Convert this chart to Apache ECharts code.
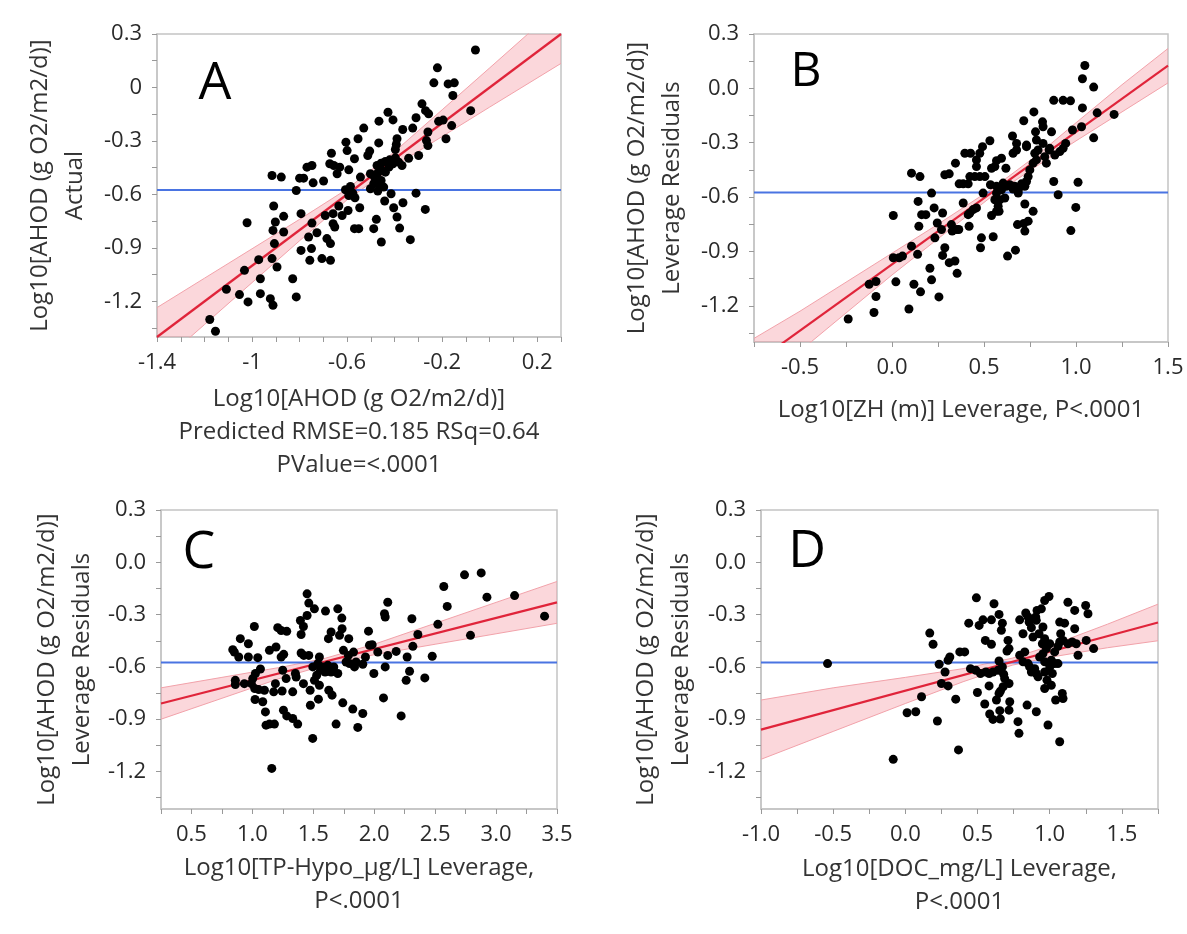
<!DOCTYPE html>
<html>
<head>
<meta charset="utf-8">
<script src="https://cdn.jsdelivr.net/npm/echarts@6/dist/echarts.min.js"></script>
<style>
  html, body { margin: 0; padding: 0; background: #fff; }
  #chart { width: 1187px; height: 934px; }
</style>
</head>
<body>
<div id="chart"></div>
<script>
// ---- data ----
const meanY = -0.575;

// A: actual vs predicted
const ptsA = [[-0.06,0.21],[-0.22,0.11],[-0.235,0.026],[-0.175,0.02],[-0.149,0.026],[-0.155,-0.045],[-0.08,-0.13],[-0.196,-0.183],[-0.215,-0.19],[-0.16,-0.214],[-0.184,-0.288],[-0.285,-0.092],[-0.27,-0.13],[-0.257,-0.148],[-0.31,-0.17],[-0.324,-0.228],[-0.26,-0.25],[-0.266,-0.298],[-0.26,-0.326],[-0.299,-0.382],[-0.341,-0.397],[-0.428,-0.139],[-0.407,-0.182],[-0.466,-0.189],[-0.366,-0.236],[-0.39,-0.288],[-0.393,-0.32],[-0.397,-0.348],[-0.467,-0.311],[-0.53,-0.228],[-0.554,-0.288],[-0.605,-0.307],[-0.6,-0.354],[-0.569,-0.4],[-0.513,-0.382],[-0.505,-0.357],[-0.666,-0.369],[-0.673,-0.428],[-0.656,-0.438],[-0.631,-0.447],[-0.642,-0.484],[-0.593,-0.462],[-0.544,-0.503],[-0.748,-0.438],[-0.769,-0.447],[-0.916,-0.494],[-0.877,-0.503],[-0.8,-0.509],[-0.783,-0.509],[-0.743,-0.535],[-0.699,-0.525],[-0.814,-0.578],[-0.474,-0.438],[-0.457,-0.425],[-0.439,-0.415],[-0.421,-0.406],[-0.397,-0.395],[-0.407,-0.428],[-0.383,-0.419],[-0.369,-0.438],[-0.502,-0.484],[-0.485,-0.503],[-0.471,-0.48],[-0.456,-0.462],[-0.439,-0.475],[-0.424,-0.447],[-0.488,-0.54],[-0.463,-0.544],[-0.502,-0.568],[-0.471,-0.581],[-0.446,-0.559],[-0.457,-0.522],[-0.593,-0.606],[-0.576,-0.593],[-0.567,-0.619],[-0.607,-0.574],[-0.586,-0.555],[-0.415,-0.596],[-0.31,-0.593],[-0.442,-0.637],[-0.404,-0.675],[-0.365,-0.647],[-0.39,-0.727],[-0.379,-0.789],[-0.271,-0.684],[-0.334,-0.854],[-0.456,-0.867],[-0.477,-0.74],[-0.488,-0.792],[-0.547,-0.675],[-0.551,-0.792],[-0.569,-0.792],[-0.596,-0.69],[-0.635,-0.665],[-0.621,-0.718],[-0.659,-0.708],[-0.692,-0.718],[-0.659,-0.764],[-0.652,-0.783],[-0.748,-0.761],[-0.727,-0.815],[-0.762,-0.839],[-0.685,-0.848],[-0.67,-0.876],[-0.794,-0.708],[-0.909,-0.665],[-0.902,-0.755],[-0.912,-0.802],[-0.867,-0.723],[-0.867,-0.811],[-1.021,-0.759],[-0.906,-0.876],[-0.972,-0.966],[-0.916,-0.96],[-0.895,-1.007],[-0.794,-0.914],[-0.75,-0.904],[-0.757,-0.97],[-0.706,-0.96],[-0.67,-0.97],[-1.032,-1.026],[-0.965,-1.073],[-0.829,-1.073],[-1.108,-1.132],[-1.053,-1.162],[-1.017,-1.203],[-0.965,-1.157],[-0.923,-1.185],[-0.912,-1.222],[-0.814,-1.175],[-1.178,-1.302],[-1.154,-1.368]];
const fitXA = [-1.4, 0.3];
const fitYA = [-1.4, 0.3];
const bandXA = [-1.4, -1.2, -1.0, -0.8, -0.6, -0.4, -0.2, 0.0, 0.3];
const bandLoA = [-1.565, -1.33, -1.095, -0.86, -0.63, -0.44, -0.275, -0.11, 0.135];
const bandHiA = [-1.235, -1.07, -0.905, -0.74, -0.57, -0.36, -0.125, 0.11, 0.465];

// B: ZH leverage
const ptsB = [[1.048,0.126],[1.035,0.053],[1.096,0.007],[0.879,-0.066],[0.93,-0.066],[0.97,-0.069],[1.035,-0.108],[1.115,-0.135],[1.207,-0.144],[0.771,-0.13],[0.716,-0.179],[0.818,-0.185],[0.821,-0.212],[1.03,-0.212],[0.981,-0.23],[0.867,-0.24],[0.78,-0.24],[0.785,-0.285],[1.096,-0.273],[0.655,-0.263],[0.731,-0.313],[0.677,-0.304],[0.532,-0.289],[0.492,-0.322],[0.477,-0.358],[0.459,-0.395],[0.459,-0.432],[0.396,-0.358],[0.427,-0.358],[0.345,-0.413],[0.287,-0.477],[0.311,-0.472],[0.106,-0.468],[0.152,-0.487],[0.423,-0.487],[0.45,-0.487],[0.477,-0.487],[0.505,-0.487],[0.568,-0.399],[0.595,-0.386],[0.619,-0.441],[0.541,-0.441],[0.559,-0.432],[0.658,-0.358],[0.677,-0.34],[0.731,-0.322],[0.776,-0.358],[0.794,-0.34],[0.785,-0.395],[0.767,-0.413],[0.749,-0.45],[0.74,-0.487],[0.731,-0.514],[0.722,-0.541],[0.83,-0.377],[0.839,-0.413],[0.857,-0.331],[0.885,-0.368],[0.912,-0.349],[0.93,-0.331],[0.944,-0.304],[0.821,-0.304],[0.854,-0.34],[0.365,-0.527],[0.387,-0.527],[0.414,-0.527],[0.535,-0.532],[0.568,-0.541],[0.595,-0.56],[0.604,-0.523],[0.622,-0.541],[0.64,-0.532],[0.667,-0.541],[0.686,-0.563],[0.704,-0.527],[0.658,-0.556],[0.686,-0.578],[0.568,-0.578],[0.559,-0.615],[0.586,-0.615],[0.613,-0.605],[0.577,-0.651],[0.568,-0.679],[0.495,-0.578],[0.387,-0.633],[0.441,-0.669],[0.459,-0.66],[0.423,-0.688],[0.414,-0.697],[0.215,-0.578],[0.142,-0.624],[0.229,-0.66],[0.275,-0.688],[0.161,-0.697],[0.184,-0.697],[0.007,-0.702],[0.246,-0.743],[0.269,-0.779],[0.323,-0.752],[0.351,-0.779],[0.363,-0.779],[0.327,-0.788],[0.146,-0.761],[0.233,-0.825],[0.419,-0.761],[0.541,-0.702],[0.582,-0.679],[0.682,-0.752],[0.716,-0.746],[0.722,-0.788],[0.74,-0.733],[0.767,-0.679],[0.722,-0.638],[0.879,-0.514],[0.903,-0.587],[1.011,-0.518],[0.999,-0.657],[0.972,-0.785],[0.106,-0.871],[0.139,-0.916],[0.007,-0.935],[0.039,-0.935],[0.057,-0.926],[0.287,-0.88],[0.275,-0.922],[0.311,-0.962],[0.342,-0.953],[0.354,-1.021],[0.486,-0.825],[0.481,-0.88],[0.55,-0.819],[0.628,-0.926],[0.671,-0.893],[0.206,-0.993],[0.215,-1.057],[0.255,-1.151],[0.092,-1.218],[0.119,-1.081],[0.155,-1.123],[0.021,-1.068],[-0.124,-1.081],[-0.087,-1.066],[-0.087,-1.149],[-0.098,-1.237],[-0.238,-1.273]];
const fitXB = [-0.75, 1.5];
const fitYB = [-1.52, 0.125];
const bandXB = [-0.75, -0.5, -0.25, 0, 0.25, 0.55, 0.8, 1.0, 1.25, 1.5];
const bandLoB = [-1.66, -1.45, -1.24, -1.03, -0.83, -0.59, -0.42, -0.29, -0.13, 0.03];
const bandHiB = [-1.38, -1.23, -1.07, -0.91, -0.75, -0.55, -0.36, -0.19, 0.02, 0.22];

// C: TP-Hypo leverage
const ptsC = [[2.741,-0.072],[2.878,-0.061],[2.571,-0.139],[2.925,-0.2],[3.152,-0.191],[2.599,-0.253],[3.398,-0.309],[2.79,-0.419],[2.522,-0.356],[2.309,-0.324],[2.358,-0.414],[2.317,-0.482],[2.111,-0.229],[2.084,-0.295],[2.09,-0.314],[1.953,-0.395],[1.983,-0.473],[2.029,-0.515],[2.18,-0.511],[2.111,-0.534],[2.27,-0.543],[2.476,-0.539],[2.09,-0.6],[1.997,-0.638],[2.29,-0.625],[2.262,-0.677],[2.415,-0.663],[2.076,-0.778],[2.221,-0.881],[1.449,-0.181],[1.463,-0.234],[1.509,-0.267],[1.6,-0.28],[1.701,-0.267],[1.734,-0.32],[1.736,-0.381],[1.715,-0.419],[1.791,-0.438],[1.646,-0.4],[1.624,-0.438],[1.449,-0.305],[1.394,-0.334],[1.419,-0.368],[1.4,-0.414],[1.016,-0.368],[1.208,-0.375],[1.236,-0.391],[1.282,-0.396],[0.901,-0.438],[0.967,-0.467],[0.839,-0.501],[0.852,-0.515],[0.888,-0.543],[0.967,-0.543],[1.044,-0.547],[1.14,-0.505],[1.194,-0.486],[1.236,-0.543],[1.257,-0.528],[1.4,-0.52],[1.422,-0.534],[1.463,-0.534],[1.331,-0.743],[1.419,-0.696],[1.495,-1.01],[1.687,-0.928],[1.159,-1.182],[1.066,-0.612],[1.025,-0.638],[1.003,-0.667],[0.992,-0.696],[0.86,-0.677],[0.86,-0.701],[0.934,-0.696],[1.019,-0.724],[1.052,-0.73],[1.099,-0.734],[1.175,-0.743],[1.189,-0.696],[1.244,-0.738],[1.249,-0.619],[1.277,-0.667],[1.353,-0.638],[1.359,-0.658],[1.474,-0.734],[1.476,-0.82],[1.542,-0.785],[1.627,-0.734],[1.654,-0.762],[1.742,-0.806],[1.022,-0.787],[1.085,-0.8],[1.107,-0.858],[1.112,-0.934],[1.14,-0.928],[1.181,-0.928],[1.255,-0.848],[1.282,-0.881],[1.331,-0.896],[1.372,-0.928],[1.824,-0.842],[1.906,-0.867],[1.865,-0.947],[1.55,-0.543],[1.537,-0.581],[1.496,-0.6],[1.578,-0.6],[1.619,-0.591],[1.668,-0.6],[1.597,-0.629],[1.646,-0.629],[1.559,-0.619],[1.701,-0.638],[1.528,-0.648],[1.509,-0.677],[1.55,-0.705],[1.747,-0.505],[1.788,-0.534],[1.83,-0.515],[1.797,-0.581],[1.851,-0.572],[1.769,-0.572],[1.838,-0.6],[1.906,-0.585],[1.928,-0.543],[1.961,-0.476]];
const fitXC = [0.25, 3.5];
const fitYC = [-0.81, -0.23];
const bandXC = [0.25, 0.75, 1.25, 1.6, 2.0, 2.5, 3.0, 3.5];
const bandLoC = [-0.90, -0.78, -0.66, -0.59, -0.53, -0.47, -0.41, -0.35];
const bandHiC = [-0.72, -0.66, -0.60, -0.55, -0.47, -0.35, -0.23, -0.11];

// D: DOC leverage
const ptsD = [[-0.539,-0.581],[-0.084,-1.13],[0.368,-1.076],[1.069,-1.029],[0.787,-0.981],[0.988,-0.933],[0.169,-0.406],[0.192,-0.47],[0.112,-0.771],[0.012,-0.863],[0.072,-0.857],[0.222,-0.91],[0.234,-0.585],[0.275,-0.629],[0.308,-0.543],[0.296,-0.562],[0.25,-0.695],[0.296,-0.709],[0.349,-0.785],[0.377,-0.514],[0.411,-0.514],[0.439,-0.349],[0.511,-0.362],[0.538,-0.33],[0.492,-0.204],[0.596,-0.33],[0.614,-0.238],[0.649,-0.299],[0.672,-0.349],[0.665,-0.39],[0.554,-0.448],[0.596,-0.47],[0.711,-0.448],[0.718,-0.495],[0.704,-0.509],[0.649,-0.566],[0.672,-0.6],[0.451,-0.61],[0.488,-0.619],[0.52,-0.638],[0.557,-0.629],[0.58,-0.638],[0.607,-0.629],[0.642,-0.619],[0.681,-0.642],[0.688,-0.667],[0.677,-0.714],[0.718,-0.695],[0.658,-0.739],[0.649,-0.752],[0.631,-0.79],[0.58,-0.709],[0.499,-0.747],[0.55,-0.813],[0.584,-0.87],[0.607,-0.901],[0.654,-0.851],[0.658,-0.899],[0.723,-0.8],[0.718,-0.848],[0.78,-0.914],[0.843,-0.819],[0.907,-0.857],[0.792,-0.33],[0.815,-0.41],[0.834,-0.291],[0.857,-0.343],[0.873,-0.375],[0.884,-0.429],[0.903,-0.314],[0.912,-0.276],[0.942,-0.267],[0.965,-0.219],[0.995,-0.196],[0.926,-0.41],[0.953,-0.371],[0.965,-0.438],[0.827,-0.514],[0.792,-0.533],[0.815,-0.571],[0.85,-0.581],[0.861,-0.6],[0.873,-0.629],[0.896,-0.61],[0.919,-0.657],[0.93,-0.543],[0.965,-0.571],[0.953,-0.524],[0.977,-0.495],[1.0,-0.467],[0.949,-0.467],[1.011,-0.562],[1.034,-0.514],[1.057,-0.482],[1.069,-0.457],[1.0,-0.6],[1.034,-0.581],[1.057,-0.581],[1.018,-0.638],[0.965,-0.629],[0.981,-0.676],[1.011,-0.705],[0.965,-0.724],[0.907,-0.638],[1.126,-0.229],[1.173,-0.276],[1.249,-0.248],[1.265,-0.295],[1.069,-0.343],[1.103,-0.349],[1.076,-0.41],[1.173,-0.381],[1.126,-0.467],[1.156,-0.457],[1.184,-0.467],[1.196,-0.533],[1.253,-0.448],[1.304,-0.495],[1.092,-0.448],[1.087,-0.752],[1.092,-0.781],[1.041,-0.79],[0.907,-0.333],[0.85,-0.314]];
const fitXD = [-1.0, 1.75];
const fitYD = [-0.96, -0.345];
const bandXD = [-1.0, -0.5, 0.0, 0.4, 0.74, 1.0, 1.4, 1.75];
const bandLoD = [-1.13, -0.97, -0.81, -0.685, -0.59, -0.545, -0.49, -0.45];
const bandHiD = [-0.79, -0.72, -0.66, -0.61, -0.55, -0.48, -0.355, -0.24];

// ticks / labels
const yLabelVals = [0.3, 0, -0.3, -0.6, -0.9, -1.2];
const yTickVals = [0.3, 0.15, 0, -0.15, -0.3, -0.45, -0.6, -0.75, -0.9, -1.05, -1.2, -1.35];
const xLabelsA = [-1.4, -1, -0.6, -0.2, 0.2];
const xTicksA = [-1.4, -1.3, -1.2, -1.1, -1.0, -0.9, -0.8, -0.7, -0.6, -0.5, -0.4, -0.3, -0.2, -0.1, 0, 0.1, 0.2, 0.3];
const xLabelsB = [-0.5, 0, 0.5, 1.0, 1.5];
const xTicksB = [-0.75, -0.5, -0.25, 0, 0.25, 0.5, 0.75, 1.0, 1.25, 1.5];
const xLabelsC = [0.5, 1.0, 1.5, 2.0, 2.5, 3.0, 3.5];
const xTicksC = [0.25, 0.5, 0.75, 1.0, 1.25, 1.5, 1.75, 2.0, 2.25, 2.5, 2.75, 3.0, 3.25, 3.5];
const xLabelsD = [-1.0, -0.5, 0, 0.5, 1.0, 1.5];
const xTicksD = [-1.0, -0.75, -0.5, -0.25, 0, 0.25, 0.5, 0.75, 1.0, 1.25, 1.5, 1.75];

const yTitle = 'Log10[AHOD (g O2/m2/d)]';

// ---- layout per panel ----
const panels = [
  { letter: 'A', lx: 215, ly: 84, lsize: 52,
    grid: { left: 157, top: 34, width: 404, height: 303 },
    xMin: -1.4, xMax: 0.3, yMin: -1.40,
    pts: ptsA, fitX: fitXA, fitY: fitYA, bX: bandXA, bLo: bandLoA, bHi: bandHiA,
    xLabels: xLabelsA, xTicks: xTicksA, plainFmt: true,
    xName: 'Log10[AHOD (g O2/m2/d)]\nPredicted RMSE=0.185 RSq=0.64\nPValue=<.0001', xGap: 46,
    yName: yTitle + '\nActual', yGap: 64 },
  { letter: 'B', lx: 806, ly: 72, lsize: 48,
    grid: { left: 754, top: 34, width: 414, height: 308 },
    xMin: -0.75, xMax: 1.5, yMin: -1.40,
    pts: ptsB, fitX: fitXB, fitY: fitYB, bX: bandXB, bLo: bandLoB, bHi: bandHiB,
    xLabels: xLabelsB, xTicks: xTicksB, plainFmt: false,
    xName: 'Log10[ZH (m)] Leverage, P<.0001', xGap: 52,
    yName: yTitle + '\nLeverage Residuals', yGap: 64 },
  { letter: 'C', lx: 199, ly: 553, lsize: 52,
    grid: { left: 161, top: 510, width: 396, height: 299 },
    xMin: 0.25, xMax: 3.5, yMin: -1.415,
    pts: ptsC, fitX: fitXC, fitY: fitYC, bX: bandXC, bLo: bandLoC, bHi: bandHiC,
    xLabels: xLabelsC, xTicks: xTicksC, plainFmt: false,
    xName: 'Log10[TP-Hypo_\u00b5g/L] Leverage,\nP<.0001', xGap: 43,
    yName: yTitle + '\nLeverage Residuals', yGap: 61 },
  { letter: 'D', lx: 807, ly: 552, lsize: 52,
    grid: { left: 761, top: 510, width: 397, height: 299 },
    xMin: -1.0, xMax: 1.75, yMin: -1.415,
    pts: ptsD, fitX: fitXD, fitY: fitYD, bX: bandXD, bLo: bandLoD, bHi: bandHiD,
    xLabels: xLabelsD, xTicks: xTicksD, plainFmt: false,
    xName: 'Log10[DOC_mg/L] Leverage,\nP<.0001', xGap: 44,
    yName: yTitle + '\nLeverage Residuals', yGap: 62 },
];

const FONT = '"Open Sans", "Noto Sans", sans-serif';
const frameColor = '#c4c4c4';
const bandEdge = '#f2a2aa';
const tickLabel = { fontSize: 22, color: '#2a2a2a', fontFamily: FONT };
const titleText = { fontSize: 24, color: '#333', fontFamily: FONT };

const grids = [], xAxes = [], yAxes = [], series = [], graphics = [];

panels.forEach((p, i) => {
  grids.push(Object.assign({
    show: true, borderColor: frameColor, borderWidth: 1.5, backgroundColor: '#fff',
    containLabel: false, outerBoundsMode: 'none'
  }, p.grid));

  const fmt1 = v => p.plainFmt ? String(+(+v).toFixed(2)) : (+v).toFixed(1);

  xAxes.push({
    type: 'value', gridIndex: i, min: p.xMin, max: p.xMax,
    axisLine: { show: true, onZero: false, lineStyle: { color: frameColor, width: 1.5 } },
    axisTick: { show: true, customValues: p.xTicks, length: 5, lineStyle: { color: '#999' } },
    axisLabel: Object.assign({ customValues: p.xLabels, margin: 15, formatter: fmt1 }, tickLabel),
    splitLine: { show: false },
    name: p.xName, nameLocation: 'middle', nameGap: p.xGap, nameMoveOverlap: false,
    nameTextStyle: Object.assign({ lineHeight: 33 }, titleText)
  });

  yAxes.push({
    type: 'value', gridIndex: i, min: p.yMin, max: 0.3,
    axisLine: { show: true, onZero: false, lineStyle: { color: frameColor, width: 1.5 } },
    axisTick: { show: true, customValues: yTickVals, length: 5, lineStyle: { color: '#999' } },
    axisLabel: Object.assign({ customValues: yLabelVals, margin: 15, formatter: fmt1 }, tickLabel),
    splitLine: { show: false },
    name: p.yName, nameLocation: 'middle', nameRotate: 90, nameGap: p.yGap, nameMoveOverlap: false,
    nameTextStyle: Object.assign({ lineHeight: 35 }, titleText)
  });

  // confidence band fill, drawn through the axes' own coordinate mapping
  series.push({
    type: 'custom', xAxisIndex: i, yAxisIndex: i, silent: true, clip: true, z: 1,
    data: [[p.bX[0], p.bLo[0]]],
    renderItem: (params, api) => {
      const lower = p.bX.map((x, k) => api.coord([x, p.bLo[k]]));
      const upper = p.bX.map((x, k) => api.coord([x, p.bHi[k]])).reverse();
      return {
        type: 'polygon',
        shape: { points: lower.concat(upper) },
        style: { fill: 'rgba(244,150,160,0.38)', stroke: null }
      };
    }
  });
  series.push({
    type: 'line', xAxisIndex: i, yAxisIndex: i, silent: true,
    data: p.bX.map((x, k) => [x, p.bLo[k]]),
    symbol: 'none', z: 1, lineStyle: { color: bandEdge, width: 1 }
  });
  series.push({
    type: 'line', xAxisIndex: i, yAxisIndex: i, silent: true,
    data: p.bX.map((x, k) => [x, p.bHi[k]]),
    symbol: 'none', z: 1, lineStyle: { color: bandEdge, width: 1 }
  });
  // mean line
  series.push({
    type: 'line', xAxisIndex: i, yAxisIndex: i, silent: true,
    data: [[p.xMin, meanY], [p.xMax, meanY]],
    symbol: 'none', z: 2,
    lineStyle: { color: '#4a74e2', width: 2 }
  });
  // fit line
  series.push({
    type: 'line', xAxisIndex: i, yAxisIndex: i, silent: true,
    data: p.fitX.map((x, k) => [x, p.fitY[k]]),
    symbol: 'none', z: 3,
    lineStyle: { color: '#e0243a', width: 2.2 }
  });
  series.push({
    type: 'scatter', xAxisIndex: i, yAxisIndex: i,
    data: p.pts, symbolSize: 9, z: 4,
    itemStyle: { color: '#000', opacity: 1 }
  });

  graphics.push({
    type: 'text', x: p.lx, y: p.ly, z: 10,
    style: { text: p.letter, fontSize: p.lsize, fontFamily: FONT, fill: '#000',
             align: 'center', verticalAlign: 'middle' }
  });
});

const chart = echarts.init(document.getElementById('chart'), null, { renderer: 'canvas' });
chart.setOption({
  backgroundColor: '#fff',
  animation: false,
  grid: grids,
  xAxis: xAxes,
  yAxis: yAxes,
  series: series,
  graphic: graphics
});
</script>
</body>
</html>
